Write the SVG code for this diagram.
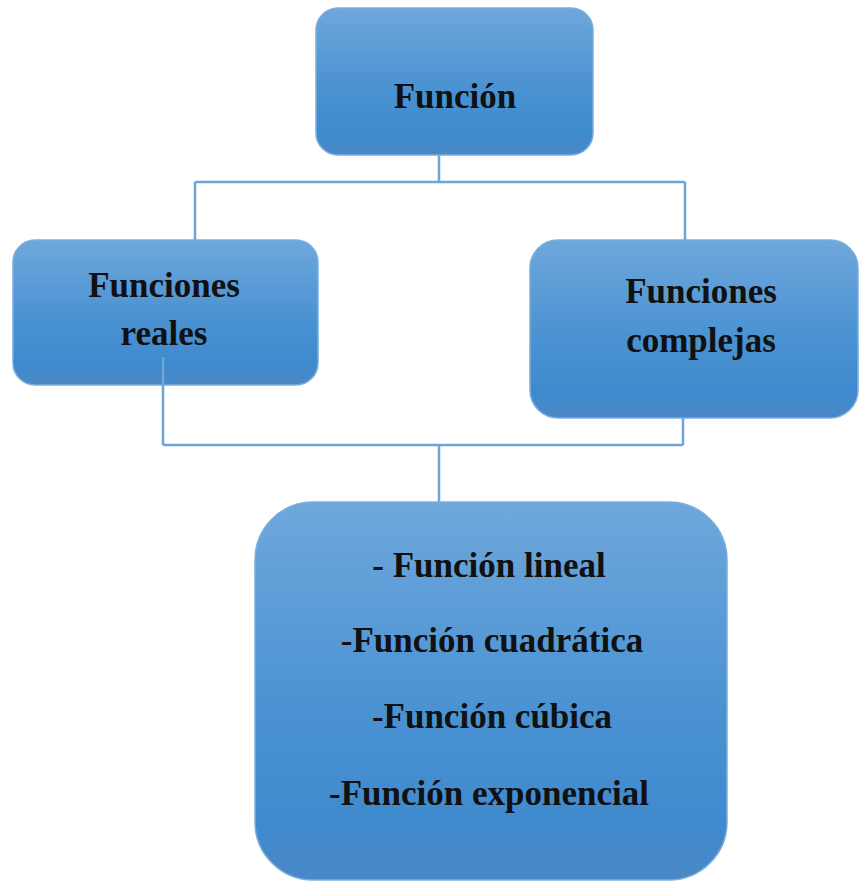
<svg xmlns="http://www.w3.org/2000/svg" width="859" height="882" viewBox="0 0 859 882">
<defs>
<linearGradient id="g" x1="0" y1="0" x2="0" y2="1">
<stop offset="0" stop-color="#6fa7dc"/>
<stop offset="0.55" stop-color="#4a92d2"/>
<stop offset="0.85" stop-color="#3f8ace"/>
<stop offset="1" stop-color="#4a88c6"/>
</linearGradient>
<style>
.box{fill:url(#g);stroke:#7aaedd;stroke-width:1.5}
.t{font-family:"Liberation Serif","Times New Roman",serif;font-weight:bold;font-size:35px;fill:#111;text-anchor:middle}
.c{fill:none;stroke:#6ea5d8;stroke-width:2.5}
</style>
</defs>
<rect width="859" height="882" fill="#fff"/>
<g id="connectors">
<path class="c" d="M439 155 V182 M195 182 H685 M195 182 V240 M685 182 V240"/>
<path class="c" d="M163 445 H683 M683 418 V445 M439 445 V503 M163 385 V445"/>
</g>
<g id="funcion">
<rect class="box" x="316" y="8" width="277" height="147" rx="22"/>
<text class="t" x="455" y="108">Función</text>
</g>
<g id="reales">
<rect class="box" x="13" y="240" width="305" height="145" rx="22"/>
<text class="t" x="164" y="297">Funciones</text>
<text class="t" x="164" y="345">reales</text>
<line class="c" x1="163" y1="357" x2="163" y2="386"/>
</g>
<g id="complejas">
<rect class="box" x="530" y="240" width="328" height="178" rx="28"/>
<text class="t" x="701" y="303">Funciones</text>
<text class="t" x="701" y="352">complejas</text>
</g>
<g id="tipos">
<rect class="box" x="255" y="502" width="472" height="378" rx="58"/>
<text class="t" x="489" y="577">- Función lineal</text>
<text class="t" x="492" y="652">-Función cuadrática</text>
<text class="t" x="492" y="728">-Función cúbica</text>
<text class="t" x="489" y="805">-Función exponencial</text>
</g>
</svg>
